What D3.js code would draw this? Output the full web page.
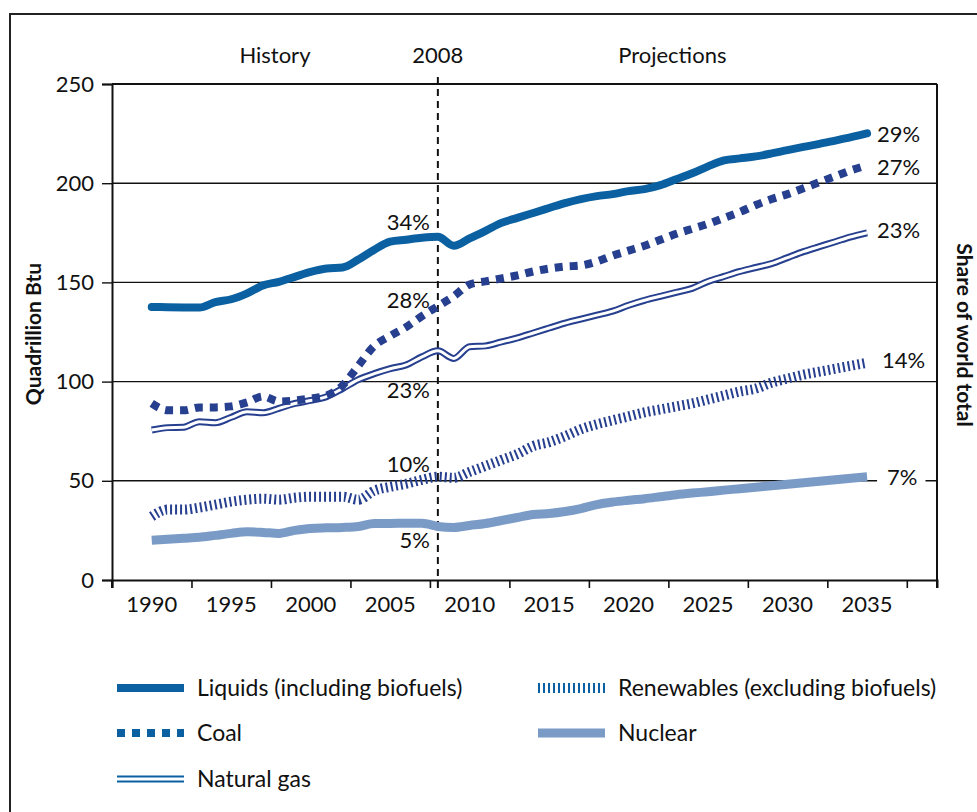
<!DOCTYPE html>
<html>
<head>
<meta charset="utf-8">
<script src="https://cdn.jsdelivr.net/npm/d3@7"></script>
<style>
    body { margin: 0; background: #fff; }
    svg text { font-family: Lato, "Noto Sans", sans-serif; fill: #111; }
</style>
</head>
<body>
<div id="chart"></div>
<script>
// values, quadrillion Btu
var years = [1990, 1991, 1992, 1993, 1994, 1995, 1996, 1997, 1998, 1999,
    2000, 2001, 2002, 2003, 2004, 2005, 2006, 2007, 2008, 2009,
    2010, 2011, 2012, 2013, 2014, 2015, 2016, 2017, 2018, 2019,
    2020, 2021, 2022, 2023, 2024, 2025, 2026, 2027, 2028, 2029,
    2030, 2031, 2032, 2033, 2034, 2035];
var liquids = [137.6, 137.5, 137.4, 137.3, 140, 141.5, 144.5, 148.5, 150.3, 152.8,
    155.3, 157, 157.5, 161.5, 166.5, 170.5, 171.5, 172.5, 173, 168.5,
    172.2, 176, 180, 182.5, 185, 187.5, 190, 192, 193.5, 194.5,
    196, 197, 199, 202, 205, 208.5, 211.5, 212.5, 213.5, 215,
    216.7, 218.3, 219.8, 221.5, 223.2, 225.1];
var coal = [89, 85.5, 85.5, 87, 87, 87.5, 89.5, 92.5, 90, 90.5,
    91.5, 93, 98, 108, 118, 123, 127.5, 133, 138, 143,
    149, 150.5, 152, 153.5, 155.5, 157, 158, 158.5, 160.5, 163.5,
    166, 168.5, 171.5, 174.5, 177, 179.5, 182.5, 185.5, 189, 192,
    194.5, 197.5, 200.5, 203.5, 206.5, 209];
var naturalGas = [75.6, 76.8, 77, 79.8, 79.3, 82, 84.8, 84.3, 86.5, 89,
    90.5, 92.4, 96.5, 101, 104, 106.5, 108.4, 112.5, 115.5, 111.7,
    117.6, 118, 120, 122, 124.5, 127, 129.5, 131.5, 133.5, 135.5,
    138.5, 141, 143, 145, 147, 150.5, 153, 155.5, 157.5, 159.5,
    162.5, 165.5, 168, 170.5, 173, 175];
var renewables = [32, 35.5, 35.5, 36.5, 38, 39.5, 40.5, 41, 40.5, 41.5,
    42, 42, 42, 40.5, 45, 47, 48.5, 50.5, 52, 51.5,
    54.5, 57.5, 60.5, 63.5, 67.5, 69.5, 72.5, 76, 78.5, 80.5,
    82.5, 84.5, 86, 87.5, 89, 91, 93, 95, 96.5, 99.5,
    101.5, 103.5, 105, 106.5, 108, 109.5];
var nuclear = [20, 20.5, 21, 21.5, 22.5, 23.5, 24.3, 24, 23.5, 25,
    26, 26.3, 26.5, 27, 28.5, 28.5, 28.6, 28.6, 27, 26.5,
    27.5, 28.5, 30, 31.5, 33, 33.5, 34.5, 36, 38, 39.3,
    40.2, 41, 42, 43, 43.8, 44.5, 45.3, 46, 46.8, 47.5,
    48.3, 49, 49.8, 50.5, 51.3, 52];

var seriesNames = ["Liquids (including biofuels)", "Coal", "Natural gas",
    "Renewables (excluding biofuels)", "Nuclear"];
var share2008 = ["34%", "28%", "23%", "10%", "5%"];
var share2035 = ["29%", "27%", "23%", "14%", "7%"];

var xLabelYears = [1990, 1995, 2000, 2005, 2010, 2015, 2020, 2025, 2030, 2035];
var xTickYears = [1987.5, 1992.5, 1997.5, 2002.5, 2007.5, 2012.5, 2017.5, 2022.5, 2027.5, 2032.5, 2037.5];
var yTicks = [0, 50, 100, 150, 200, 250];
var splitYear = 2008;

var width = 977,
    height = 812;

var blue = '#0a60a0',
    navy = '#263f8f',
    light = '#7b9bc7';

var x = d3.scaleLinear()
    .domain([1987.5, 2039.4])
    .range([112, 937]);

var y = d3.scaleLinear()
    .domain([0, 250])
    .range([580, 84]);

var svg = d3.select('#chart').append('svg')
    .attr('width', width)
    .attr('height', height);

// outer frame
svg.append('rect')
    .attr('x', 10)
    .attr('y', 14)
    .attr('width', 1000)
    .attr('height', 900)
    .attr('fill', 'none')
    .attr('stroke', '#222')
    .attr('stroke-width', 2);

// gridlines
svg.append('g')
    .selectAll('line')
    .data(yTicks.slice(1))
    .enter().append('line')
    .attr('x1', x.range()[0])
    .attr('x2', x.range()[1])
    .attr('y1', function (d) { return y(d); })
    .attr('y2', function (d) { return y(d); })
    .attr('stroke', '#111')
    .attr('stroke-width', function (d) { return d == 250 ? 2 : 1.4; });

// left axis
var yAxis = svg.append('g')
    .attr('transform', 'translate(' + x.range()[0] + ',0)')
    .call(d3.axisLeft(y).tickValues(yTicks).tickSize(10).tickPadding(8));
yAxis.select('.domain').attr('stroke-width', 2).attr('stroke', '#111');
yAxis.selectAll('.tick line').attr('stroke-width', 1.4).attr('stroke', '#111');
yAxis.selectAll('.tick text')
    .style('font-size', '22px')
    .attr('fill', '#111');

// right edge of the plot
svg.append('line')
    .attr('x1', x.range()[1])
    .attr('x2', x.range()[1])
    .attr('y1', y(250))
    .attr('y2', y(0) + 8)
    .attr('stroke', '#111')
    .attr('stroke-width', 2);

// bottom axis: ticks between years, labels on years
var xAxis = svg.append('g')
    .attr('transform', 'translate(0,' + y(0) + ')')
    .call(d3.axisBottom(x).tickValues(xTickYears).tickSize(8).tickFormat(''));
xAxis.select('.domain').attr('stroke-width', 2).attr('stroke', '#111');
xAxis.selectAll('.tick line').attr('stroke-width', 1.6).attr('stroke', '#111');

svg.append('line')
    .attr('x1', x.range()[0])
    .attr('x2', x.range()[0])
    .attr('y1', y(0))
    .attr('y2', y(0) + 8)
    .attr('stroke', '#111')
    .attr('stroke-width', 2);

svg.append('g')
    .selectAll('text')
    .data(xLabelYears)
    .enter().append('text')
    .attr('x', function (d) { return x(d); })
    .attr('y', y(0) + 32)
    .attr('text-anchor', 'middle')
    .style('font-size', '22px')
    .text(function (d) { return d; });

// axis titles
svg.append('text')
    .attr('transform', 'translate(41,334)rotate(-90)')
    .attr('text-anchor', 'middle')
    .style('font-size', '21px')
    .style('font-weight', 'bold')
    .text('Quadrillion Btu');

svg.append('text')
    .attr('transform', 'translate(957,335)rotate(90)')
    .attr('text-anchor', 'middle')
    .style('font-size', '21px')
    .style('font-weight', 'bold')
    .text('Share of world total');

// history / projections split
svg.append('line')
    .attr('x1', x(splitYear))
    .attr('x2', x(splitYear))
    .attr('y1', 77)
    .attr('y2', y(0) + 8)
    .attr('stroke', '#111')
    .attr('stroke-width', 2)
    .attr('stroke-dasharray', '7,5');

var lastTick = xTickYears[xTickYears.length - 1];
svg.append('text')
    .attr('x', x((x.domain()[0] + splitYear) / 2))
    .attr('y', 63)
    .attr('text-anchor', 'middle')
    .style('font-size', '22px')
    .text('History');
svg.append('text')
    .attr('x', x(splitYear))
    .attr('y', 63)
    .attr('text-anchor', 'middle')
    .style('font-size', '22px')
    .text(splitYear);
svg.append('text')
    .attr('x', x((lastTick + splitYear) / 2))
    .attr('y', 63)
    .attr('text-anchor', 'middle')
    .style('font-size', '22px')
    .text('Projections');

// series
var line = d3.line()
    .x(function (d) { return x(d.year); })
    .y(function (d) { return y(d.value); })
    .curve(d3.curveMonotoneX);

function points(values) {
    return values.map(function (v, i) { return { year: years[i], value: v }; });
}

var series = [
    { values: liquids, kind: 'solid', color: blue, legend: [117, 688], lab08: -7, lab35: [10, 9] },
    { values: coal, kind: 'coal', color: navy, legend: [117, 733], lab08: 2, lab35: [10, 10] },
    { values: naturalGas, kind: 'gas', color: navy, legend: [117, 779], lab08: 47, lab35: [10, 5] },
    { values: renewables, kind: 'hatch', color: navy, legend: [538, 688], lab08: -5, lab35: [15, 5] },
    { values: nuclear, kind: 'nuclear', color: light, legend: [538, 733], lab08: 22, lab35: [20, 8] }
];

function drawStroke(sel, kind, color) {
    if (kind == 'solid') {
        sel.attr('stroke', color).attr('stroke-width', 8).attr('stroke-linecap', 'round');
    } else if (kind == 'coal') {
        sel.attr('stroke', color).attr('stroke-width', 8).attr('stroke-dasharray', '8,7');
    } else if (kind == 'hatch') {
        sel.attr('stroke', color).attr('stroke-width', 10).attr('stroke-dasharray', '2,3');
    } else if (kind == 'nuclear') {
        sel.attr('stroke', color).attr('stroke-width', 9);
    } else if (kind == 'gas') {
        sel.attr('stroke', color).attr('stroke-width', 7);
    }
}

var lineLayer = svg.append('g').attr('fill', 'none');

// draw back to front so liquids sits on top
series.slice().reverse().forEach(function (s) {
    var p = lineLayer.append('path')
        .datum(points(s.values))
        .attr('d', line)
        .attr('fill', 'none');
    drawStroke(p, s.kind, s.color);
    if (s.kind == 'gas') {
        lineLayer.append('path')
            .datum(points(s.values))
            .attr('d', line)
            .attr('fill', 'none')
            .attr('stroke', '#fff')
            .attr('stroke-width', 3);
    }
});

// share labels
var last = years.length - 1,
    i2008 = years.indexOf(splitYear);

var labelLayer = svg.append('g');
series.forEach(function (s, i) {
    labelLayer.append('text')
        .attr('x', x(splitYear) - 8)
        .attr('y', y(s.values[i2008]) + s.lab08)
        .attr('text-anchor', 'end')
        .style('font-size', '22px')
        .text(share2008[i]);

    var t = labelLayer.append('text')
        .attr('x', x(years[last]) + s.lab35[0])
        .attr('y', y(s.values[last]) + s.lab35[1])
        .style('font-size', '22px')
        .text(share2035[i]);
    if (s.kind == 'nuclear') {
        // label sits on the 50 gridline, blank it out behind the text
        var b = t.node().getBBox();
        labelLayer.insert('rect', function () { return t.node(); })
            .attr('x', b.x - 10)
            .attr('y', b.y + 3)
            .attr('width', b.width + 18)
            .attr('height', b.height - 6)
            .attr('fill', '#fff');
    }
});

// legend
var legend = svg.append('g');
series.forEach(function (s, i) {
    var lx = s.legend[0], ly = s.legend[1];
    var c = s.kind == 'nuclear' ? light : blue;
    var sw = legend.append('line')
        .attr('x1', lx)
        .attr('x2', lx + 67)
        .attr('y1', ly)
        .attr('y2', ly);
    drawStroke(sw, s.kind, c);
    if (s.kind == 'solid') sw.attr('stroke-linecap', 'butt');
    if (s.kind == 'gas') {
        legend.append('line')
            .attr('x1', lx)
            .attr('x2', lx + 67)
            .attr('y1', ly)
            .attr('y2', ly)
            .attr('stroke', '#fff')
            .attr('stroke-width', 3);
    }
    legend.append('text')
        .attr('x', lx + 80)
        .attr('y', ly + 8)
        .style('font-size', '23px')
        .text(seriesNames[i]);
});
</script>
</body>
</html>
